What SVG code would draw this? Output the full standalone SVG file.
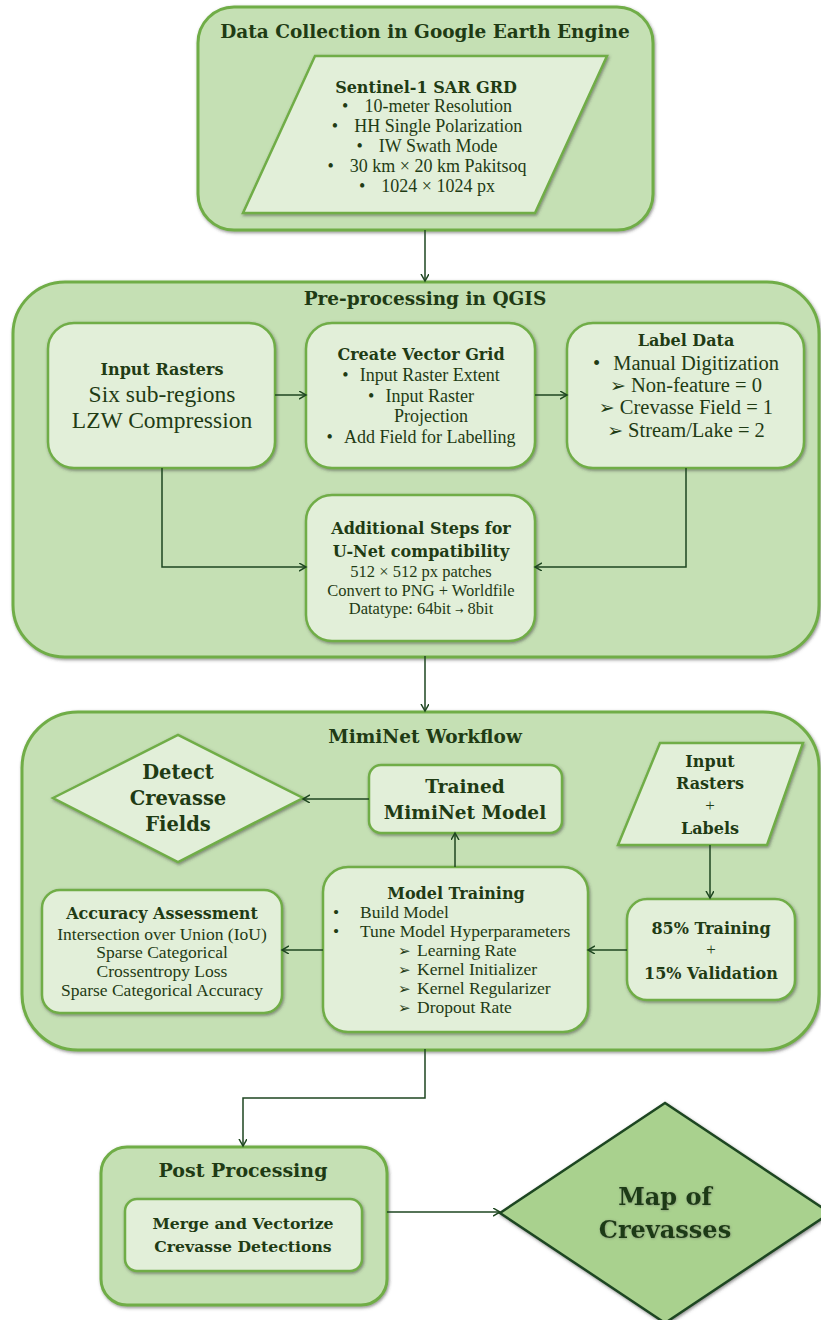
<svg xmlns="http://www.w3.org/2000/svg" width="821" height="1320" viewBox="0 0 821 1320">
<defs>
  <filter id="sh" x="-10%" y="-10%" width="120%" height="125%">
    <feDropShadow dx="1" dy="1.5" stdDeviation="1.5" flood-color="#3a3a3a" flood-opacity="0.55"/>
  </filter>
  <filter id="tsh" x="-10%" y="-20%" width="120%" height="140%">
    <feDropShadow dx="0.5" dy="0.5" stdDeviation="0.8" flood-color="#555" flood-opacity="0.5"/>
  </filter>
  <marker id="arr" markerWidth="10" markerHeight="10" refX="7" refY="4" orient="auto" markerUnits="userSpaceOnUse">
    <path d="M0,0 L7,4 L0,8" fill="none" stroke="#1e4620" stroke-width="1.5"/>
  </marker>
</defs>
<style>
  .cont { fill: #c5e0b4; stroke: #70ad47; stroke-width: 3; filter: url(#sh); }
  .box { fill: #e2efd9; stroke: #70ad47; stroke-width: 2.5; filter: url(#sh); }
  .map { fill: #a9d18e; stroke: #1e4620; stroke-width: 2.5; filter: url(#sh); }
  text { font-family: "Liberation Serif", "DejaVu Serif", serif; fill: #1f3b14; }
  .c { text-anchor: middle; }
  .b { font-family: "DejaVu Serif", "Liberation Serif", serif; font-weight: bold; }
  .ttl { font-family: "DejaVu Serif", "Liberation Serif", serif; font-size: 18.5px; font-weight: bold; text-anchor: middle; }
  .sym { font-family: "DejaVu Sans", sans-serif; }
  .conn { fill: none; stroke: #1e4620; stroke-width: 1.5; }
</style>

<!-- Data collection -->
<g id="data-collection">
  <rect class="cont" x="198" y="7" width="455" height="223" rx="36"/>
  <text class="ttl" x="425" y="38">Data Collection in Google Earth Engine</text>
</g>
<g id="sentinel">
  <polygon class="box" points="315,56 607,56 535,213 243,213"/>
  <text class="c b" x="426" y="93" font-size="16">Sentinel-1 SAR GRD</text>
  <g font-size="18">
    <text class="c" x="427" y="112">•<tspan dx="16">10-meter Resolution</tspan></text>
    <text class="c" x="427" y="132">•<tspan dx="16">HH Single Polarization</tspan></text>
    <text class="c" x="427" y="152">•<tspan dx="16">IW Swath Mode</tspan></text>
    <text class="c" x="427" y="172">•<tspan dx="16">30 km × 20 km Pakitsoq</tspan></text>
    <text class="c" x="427" y="192">•<tspan dx="16">1024 × 1024 px</tspan></text>
  </g>
</g>

<!-- Pre-processing -->
<g id="preprocessing">
  <rect class="cont" x="13" y="282" width="806" height="375" rx="52"/>
  <text class="ttl" x="425" y="305">Pre-processing in QGIS</text>
</g>
<g id="input-rasters">
  <rect class="box" x="48" y="323" width="227" height="145" rx="26"/>
  <text class="c b" x="162" y="375" font-size="16">Input Rasters</text>
  <text class="c" x="162" y="402" font-size="23.5">Six sub-regions</text>
  <text class="c" x="162" y="428" font-size="23.5">LZW Compression</text>
</g>
<g id="vector-grid">
  <rect class="box" x="306" y="323" width="229" height="145" rx="26"/>
  <text class="c b" x="421" y="360" font-size="16">Create Vector Grid</text>
  <g font-size="18">
    <text class="c" x="421" y="381">•<tspan dx="11">Input Raster Extent</tspan></text>
    <text class="c" x="421" y="402">•<tspan dx="11">Input Raster</tspan></text>
    <text class="c" x="431" y="422">Projection</text>
    <text class="c" x="421" y="443">•<tspan dx="11">Add Field for Labelling</tspan></text>
  </g>
</g>
<g id="label-data">
  <rect class="box" x="567" y="323" width="237" height="145" rx="26"/>
  <text class="c b" x="686" y="346" font-size="16">Label Data</text>
  <g font-size="20.5">
    <text class="c" x="686" y="370">•<tspan dx="13">Manual Digitization</tspan></text>
    <text class="c" x="686" y="392"><tspan class="sym" font-size="19">➢</tspan><tspan dx="5">Non-feature = 0</tspan></text>
    <text class="c" x="686" y="414"><tspan class="sym" font-size="19">➢</tspan><tspan dx="5">Crevasse Field = 1</tspan></text>
    <text class="c" x="686" y="437"><tspan class="sym" font-size="19">➢</tspan><tspan dx="5">Stream/Lake = 2</tspan></text>
  </g>
</g>
<g id="additional-steps">
  <rect class="box" x="306" y="495" width="229" height="146" rx="26"/>
  <text class="c b" x="421" y="534" font-size="16">Additional Steps for</text>
  <text class="c b" x="421" y="557" font-size="16">U-Net compatibility</text>
  <g font-size="16.5">
    <text class="c" x="421" y="577">512 × 512 px patches</text>
    <text class="c" x="421" y="596">Convert to PNG + Worldfile</text>
    <text class="c" x="421" y="614">Datatype: 64bit <tspan class="sym" font-size="10">→</tspan> 8bit</text>
  </g>
</g>

<!-- MimiNet -->
<g id="miminet">
  <rect class="cont" x="22" y="712" width="797" height="338" rx="56"/>
  <text class="ttl" x="425" y="743">MimiNet Workflow</text>
</g>
<g id="detect">
  <polygon class="box" points="53,798 178,735 303,798 178,862"/>
  <text class="c b" x="178" y="779" font-size="19.5">Detect</text>
  <text class="c b" x="178" y="805" font-size="19.5">Crevasse</text>
  <text class="c b" x="178" y="831" font-size="19.5">Fields</text>
</g>
<g id="trained">
  <rect class="box" x="369" y="765" width="193" height="68" rx="12"/>
  <text class="c b" x="465" y="793" font-size="18.5">Trained</text>
  <text class="c b" x="465" y="819" font-size="18.5">MimiNet Model</text>
</g>
<g id="input-labels">
  <polygon class="box" points="660,743 803,743 767,845 618,845"/>
  <text class="c b" x="710" y="767" font-size="16">Input</text>
  <text class="c b" x="710" y="789" font-size="16">Rasters</text>
  <text class="c" x="710" y="811" font-size="17">+</text>
  <text class="c b" x="710" y="834" font-size="16">Labels</text>
</g>
<g id="split">
  <rect class="box" x="627" y="899" width="168" height="101" rx="20"/>
  <text class="c b" x="711" y="934" font-size="16">85% Training</text>
  <text class="c" x="711" y="955" font-size="17">+</text>
  <text class="c b" x="711" y="979" font-size="16">15% Validation</text>
</g>
<g id="model-training">
  <rect class="box" x="323" y="867" width="265" height="165" rx="25"/>
  <text class="c b" x="456" y="899" font-size="16">Model Training</text>
  <g font-size="17.5">
    <text x="333" y="918">•</text><text x="360" y="918">Build Model</text>
    <text x="333" y="937">•</text><text x="360" y="937">Tune Model Hyperparameters</text>
    <text class="sym" x="398" y="956" font-size="15">➢</text><text x="417" y="956">Learning Rate</text>
    <text class="sym" x="398" y="975" font-size="15">➢</text><text x="417" y="975">Kernel Initializer</text>
    <text class="sym" x="398" y="994" font-size="15">➢</text><text x="417" y="994">Kernel Regularizer</text>
    <text class="sym" x="398" y="1013" font-size="15">➢</text><text x="417" y="1013">Dropout Rate</text>
  </g>
</g>
<g id="accuracy">
  <rect class="box" x="42" y="890" width="240" height="123" rx="18"/>
  <text class="c b" x="162" y="919" font-size="16">Accuracy Assessment</text>
  <g font-size="17.5">
    <text class="c" x="162" y="940">Intersection over Union (IoU)</text>
    <text class="c" x="162" y="958">Sparse Categorical</text>
    <text class="c" x="162" y="977">Crossentropy Loss</text>
    <text class="c" x="162" y="996">Sparse Categorical Accuracy</text>
  </g>
</g>

<!-- Post processing -->
<g id="post-processing">
  <rect class="cont" x="101" y="1147" width="286" height="158" rx="26"/>
  <text class="c b" x="243" y="1177" font-size="19">Post Processing</text>
</g>
<g id="merge">
  <rect class="box" x="125" y="1199" width="237" height="72" rx="12"/>
  <text class="c b" x="243" y="1229" font-size="15.7">Merge and Vectorize</text>
  <text class="c b" x="243" y="1252" font-size="15.7">Crevasse Detections</text>
</g>
<g id="map">
  <polygon class="map" points="500,1213 665,1103 830,1213 665,1323"/>
  <text class="c b" x="665" y="1205" font-size="24" filter="url(#tsh)">Map of</text>
  <text class="c b" x="665" y="1238" font-size="24" filter="url(#tsh)">Crevasses</text>
</g>

<!-- Connectors -->
<g id="connectors">
  <path class="conn" d="M425,230 V281" marker-end="url(#arr)"/>
  <path class="conn" d="M275,395 H306" marker-end="url(#arr)"/>
  <path class="conn" d="M535,395 H567" marker-end="url(#arr)"/>
  <path class="conn" d="M162,468 V567 H306" marker-end="url(#arr)"/>
  <path class="conn" d="M686,468 V567 H535" marker-end="url(#arr)"/>
  <path class="conn" d="M425,656 V711" marker-end="url(#arr)"/>
  <path class="conn" d="M369,799 H303" marker-end="url(#arr)"/>
  <path class="conn" d="M710,845 V898" marker-end="url(#arr)"/>
  <path class="conn" d="M627,950 H588" marker-end="url(#arr)"/>
  <path class="conn" d="M455,867 V833" marker-end="url(#arr)"/>
  <path class="conn" d="M323,950 H282" marker-end="url(#arr)"/>
  <path class="conn" d="M425,1049 V1098 H243 V1146" marker-end="url(#arr)"/>
  <path class="conn" d="M387,1212 H500" marker-end="url(#arr)"/>
</g>
</svg>
